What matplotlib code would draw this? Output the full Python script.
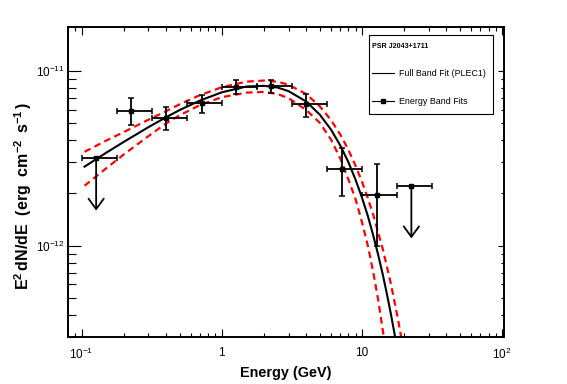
import matplotlib
matplotlib.use("Agg")
import matplotlib.pyplot as plt
from matplotlib.ticker import FixedLocator, FixedFormatter, LogLocator, NullFormatter, NullLocator
from matplotlib.patches import Rectangle
from matplotlib.lines import Line2D

plt.rcParams['font.family'] = ['Liberation Sans', 'DejaVu Sans']
plt.rcParams['mathtext.fontset'] = 'custom'
plt.rcParams['mathtext.rm'] = 'Liberation Sans'
plt.rcParams['mathtext.it'] = 'Liberation Sans:italic'
plt.rcParams['mathtext.bf'] = 'Liberation Sans:bold'

# ---------------- data ----------------
# energy band fits (GeV, erg cm^-2 s^-1)
band_E = [0.127, 0.225, 0.40, 0.72, 1.27, 2.25, 4.0, 7.2, 12.8, 22.5]
band_E_lo = [0.100, 0.178, 0.316, 0.562, 1.00, 1.78, 3.16, 5.62, 10.0, 17.8]
band_E_hi = [0.178, 0.316, 0.562, 1.00, 1.78, 3.16, 5.62, 10.0, 17.8, 31.6]
band_flux = [3.17e-12, 5.91e-12, 5.39e-12, 6.56e-12, 8.11e-12, 8.21e-12, 6.48e-12, 2.75e-12, 1.95e-12, 2.20e-12]
band_flux_hi = [None, 7.01e-12, 6.23e-12, 7.29e-12, 8.88e-12, 8.88e-12, 7.40e-12, 3.63e-12, 2.94e-12, None]
band_flux_lo = [None, 4.91e-12, 4.60e-12, 5.75e-12, 7.40e-12, 7.49e-12, 5.46e-12, 1.91e-12, 1.00e-12, None]
band_is_ul = [True, False, False, False, False, False, False, False, False, True]

# full band fit (PLEC1) curve
fit_E = [0.105, 0.15, 0.2, 0.3, 0.4, 0.5, 0.7, 1.0, 1.5, 2.0, 2.5, 3.0, 4.0, 5.0, 6.0,
         7.0, 8.0, 9.0, 10.0, 11.0, 12.0, 13.0, 14.0, 15.0, 16.0, 17.0, 18.0]
fit_flux = [2.83e-12, 3.40e-12, 3.92e-12, 4.76e-12, 5.42e-12, 5.96e-12, 6.76e-12, 7.53e-12,
            8.13e-12, 8.20e-12, 8.02e-12, 7.64e-12, 6.67e-12, 5.61e-12, 4.62e-12, 3.74e-12,
            3.00e-12, 2.38e-12, 1.88e-12, 1.48e-12, 1.15e-12, 8.95e-13, 6.95e-13, 5.36e-13,
            4.14e-13, 3.18e-13, 2.45e-13]

# butterfly (red dashed) upper and lower envelopes
up_E = [0.105, 0.15, 0.2, 0.3, 0.4, 0.5, 0.7, 1.0, 1.5, 2.0, 2.5, 3.0, 4.0, 5.0, 6.0,
        7.0, 8.0, 9.0, 10.0, 11.0, 12.0, 14.0, 16.0, 18.0, 20.0]
up_flux = [3.44e-12, 3.99e-12, 4.46e-12, 5.25e-12, 5.87e-12, 6.43e-12, 7.26e-12, 8.05e-12,
           8.67e-12, 8.79e-12, 8.65e-12, 8.32e-12, 7.36e-12, 6.26e-12, 5.24e-12, 4.32e-12,
           3.53e-12, 2.86e-12, 2.32e-12, 1.87e-12, 1.51e-12, 9.70e-13, 6.15e-13, 3.85e-13,
           2.40e-13]
lo_E = [0.105, 0.15, 0.2, 0.3, 0.4, 0.5, 0.7, 1.0, 1.5, 2.0, 2.5, 3.0, 4.0, 5.0, 6.0,
        7.0, 8.0, 9.0, 10.0, 11.0, 12.0, 13.0, 14.0, 15.0]
lo_flux = [2.20e-12, 2.77e-12, 3.32e-12, 4.23e-12, 5.00e-12, 5.56e-12, 6.37e-12, 7.06e-12,
           7.50e-12, 7.57e-12, 7.36e-12, 6.97e-12, 5.97e-12, 5.04e-12, 4.05e-12, 3.15e-12,
           2.39e-12, 1.84e-12, 1.36e-12, 1.00e-12, 7.13e-13, 4.97e-13, 3.36e-13, 2.34e-13]

x_ticks = [0.1, 1, 10, 100]
x_tick_labels = [r'$10^{-1}$', '1', '10', r'$10^{2}$']
y_ticks = [1e-12, 1e-11]
y_tick_labels = [r'$10^{-12}$', r'$10^{-11}$']

legend_title = 'PSR J2043+1711'
legend_fit = 'Full Band Fit (PLEC1)'
legend_band = 'Energy Band Fits'

# ---------------- figure ----------------
W, H = 567, 384
fig = plt.figure(figsize=(W / 100, H / 100), dpi=100)
L, R, T, B = 68, 504, 27, 337
rect = [L / W, 1 - B / H, (R - L) / W, (B - T) / H]
ax = fig.add_axes(rect)
ax.set_xscale('log')
ax.set_yscale('log')
xlim = (0.08, 103)
ylim = (3.0e-13, 1.78e-11)
ax.set_xlim(*xlim)
ax.set_ylim(*ylim)

# curves
ax.plot(fit_E, fit_flux, color='black', lw=1.5, zorder=3)
ax.plot(up_E, up_flux, color='red', lw=1.6, ls=(0, (3, 2)), zorder=2)
ax.plot(lo_E, lo_flux, color='red', lw=1.6, ls=(0, (3, 2)), zorder=2)

# band points
for E, elo, ehi, f, fhi, flo, ul in zip(band_E, band_E_lo, band_E_hi, band_flux,
                                         band_flux_hi, band_flux_lo, band_is_ul):
    xerr = [[E - elo], [ehi - E]]
    if ul:
        ax.errorbar([E], [f], xerr=xerr, fmt='s', color='black', ms=3,
                    elinewidth=1.3, capsize=2.2, capthick=1.1, zorder=4)
        ax.annotate('', xy=(E, f * 0.5), xytext=(E, f),
                    arrowprops=dict(arrowstyle='->,head_length=0.75,head_width=0.55',
                                    lw=1.3, color='black', shrinkA=0, shrinkB=0),
                    zorder=4)
    else:
        yerr = [[f - flo], [fhi - f]]
        ax.errorbar([E], [f], xerr=xerr, yerr=yerr, fmt='s', color='black', ms=3,
                    elinewidth=1.3, capsize=2.2, capthick=1.1, zorder=4)

# axes styling
for s in ax.spines.values():
    s.set_linewidth(1.4)
ax.xaxis.set_major_locator(FixedLocator(x_ticks))
ax.xaxis.set_major_formatter(FixedFormatter(x_tick_labels))
ax.xaxis.set_minor_locator(LogLocator(base=10, subs=range(2, 10), numticks=20))
ax.xaxis.set_minor_formatter(NullFormatter())
ax.yaxis.set_major_locator(FixedLocator(y_ticks))
ax.yaxis.set_major_formatter(FixedFormatter(y_tick_labels))
ax.yaxis.set_minor_locator(LogLocator(base=10, subs=range(2, 10), numticks=20))
ax.yaxis.set_minor_formatter(NullFormatter())

ax.tick_params(axis='x', which='major', direction='in', length=5.8, width=0.8,
               top=True, labelsize=8.5, pad=7)
ax.tick_params(axis='x', which='minor', direction='in', length=2.9, width=0.8, top=True)
ax.tick_params(axis='y', which='major', direction='in', length=9.4, width=0.8,
               right=False, labelsize=8.5, pad=2)
ax.tick_params(axis='y', which='minor', direction='in', length=5.8, width=0.8, right=False)

# right-hand ticks (shorter) on an overlay axes without any labels
axr = fig.add_axes(rect, facecolor='none')
axr.set_yscale('log')
axr.set_ylim(*ylim)
axr.xaxis.set_major_locator(NullLocator())
axr.xaxis.set_minor_locator(NullLocator())
axr.yaxis.set_major_locator(FixedLocator(y_ticks))
axr.yaxis.set_major_formatter(NullFormatter())
axr.yaxis.set_minor_locator(LogLocator(base=10, subs=range(2, 10), numticks=20))
axr.yaxis.set_minor_formatter(NullFormatter())
axr.tick_params(axis='y', which='both', left=False, right=True, labelleft=False,
                labelright=False, direction='in', width=0.8)
axr.tick_params(axis='y', which='major', length=4.3)
axr.tick_params(axis='y', which='minor', length=2.5)
for s in axr.spines.values():
    s.set_visible(False)

ax.set_xlabel('Energy (GeV)', fontsize=10.4, fontweight='bold', labelpad=3)
ax.set_ylabel(r'E$^{\mathbf{2}}\,$dN/dE  (erg  cm$^{\mathbf{-2}}\,$ s$^{\mathbf{-1}}\,$)',
              fontsize=11.5, fontweight='bold')
ax.yaxis.set_label_coords((34 - L) / (R - L), (B - 196) / (B - T))

# legend box (figure pixel coordinates -> figure fraction)
def fx(px):
    return px / W

def fy(py):
    return 1 - py / H

lx0, lx1, ly0, ly1 = 369, 493, 35, 114
fig.add_artist(Rectangle((fx(lx0), fy(ly1)), fx(lx1) - fx(lx0), fy(ly0) - fy(ly1),
                         transform=fig.transFigure, facecolor='white',
                         edgecolor='black', lw=0.8, zorder=10))
fig.text(fx(372), fy(47), legend_title, fontsize=5.1, fontweight='bold',
         va='center', ha='left', zorder=11)
fig.add_artist(Line2D([fx(372), fx(394)], [fy(73), fy(73)], color='black', lw=0.8,
                      transform=fig.transFigure, zorder=11))
fig.text(fx(399), fy(73), legend_fit, fontsize=6.4, va='center', ha='left', zorder=11)
fig.add_artist(Line2D([fx(372), fx(394)], [fy(101), fy(101)], color='black', lw=0.8,
                      transform=fig.transFigure, zorder=11))
fig.add_artist(Line2D([fx(383)], [fy(101)], color='black', lw=0,
                      marker='s', markersize=3.5,
                      transform=fig.transFigure, zorder=12))
fig.text(fx(399), fy(101), legend_band, fontsize=6.4, va='center', ha='left', zorder=11)

fig.savefig('out.png', dpi=100)
